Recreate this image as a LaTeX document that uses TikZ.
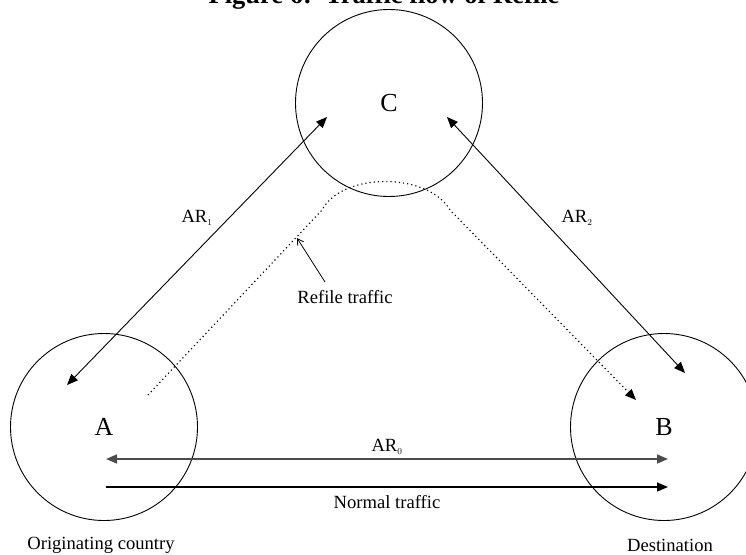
\documentclass[tikz,border=0pt]{standalone}
\usepackage{fontspec}
\setmainfont{Liberation Serif}
\usetikzlibrary{arrows.meta}

\begin{document}
\begin{tikzpicture}[x=1pt, y=-1pt, auto,
  country/.style={draw, circle, line width=0.9pt, minimum size=187pt, inner sep=0pt, font=\fontsize{26}{28}\selectfont},
  txt/.style={font=\fontsize{18.6}{20}\selectfont, inner sep=0pt},
  tip/.style={-{Triangle[length=11pt,width=9pt]}},
  dtip/.style={{Triangle[length=11pt,width=9pt]}-{Triangle[length=11pt,width=9pt]}}]
\useasboundingbox (0,0) rectangle (746,554);
\node[anchor=base, font=\bfseries\fontsize{26.5}{28}\selectfont] (title) at (384,4) {Figure 6:\ \ Traffic flow of Refile};
\node[country] (A) at (104,427) {A};
\node[country] (B) at (664,427) {B};
\node[country] (C) at (389,103) {C};

\coordinate (a1) at (67,385);
\coordinate (c1) at (327,117);
\coordinate (c2) at (447,117);
\coordinate (b2) at (685,373);
\coordinate (a0) at (106,459);
\coordinate (b0) at (668,459);
\coordinate (an) at (106,487);
\coordinate (bn) at (668,487);
\coordinate (rs) at (148,395);
\coordinate (rb) at (636,400);

\draw[dtip, line width=0.9pt] (a1) -- (c1);
\draw[dtip, line width=0.9pt] (c2) -- (b2);
\draw[dtip, line width=1.6pt, black!70] (a0) -- (b0);
\draw[tip, line width=1.1pt] (an) -- (bn);
\draw[tip, line width=1.1pt, dash pattern=on 1.2pt off 3pt] (rs) -- (322,210)
  .. controls (342,172) and (428,172) .. (450,210) -- (rb);

\node[txt] (ar1) at (197,218) {AR$_{\scriptscriptstyle 1}$};
\node[txt] (ar2) at (577,218) {AR$_{\scriptscriptstyle 2}$};
\node[txt] (ar0) at (387,447) {AR$_{\scriptscriptstyle 0}$};
\node[txt] (normal) at (387,502) {Normal traffic};
\node[txt] (refile) at (345,297) {Refile traffic};
\node[txt] (orig) at (101,545) {Originating country};
\node[txt] (dest) at (670,545) {Destination};

\coordinate (rt) at (297,238);
\coordinate (rf) at (325,282);
\draw[-{Straight Barb[length=6pt,width=7pt]}, line width=0.8pt] (rf) -- (rt);
\end{tikzpicture}
\end{document}
